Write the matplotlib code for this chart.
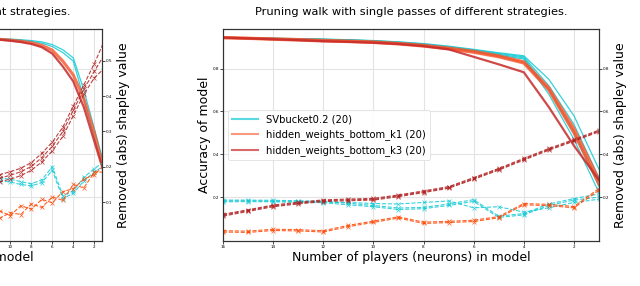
import matplotlib.pyplot as plt
from matplotlib.lines import Line2D

plt.rcParams['font.family'] = ['DejaVu Sans']

# right panel: single passes, 16 players
players = [16, 15, 14, 13, 12, 11, 10, 9, 8, 7, 6, 5, 4, 3, 2, 1]

acc_sv_runs = [
    [0.946, 0.944, 0.942, 0.940, 0.938, 0.935, 0.931, 0.925, 0.917, 0.905, 0.890, 0.874, 0.860, 0.75, 0.58, 0.33],
    [0.945, 0.943, 0.941, 0.939, 0.937, 0.934, 0.930, 0.924, 0.915, 0.902, 0.887, 0.871, 0.855, 0.72, 0.54, 0.29],
    [0.944, 0.942, 0.940, 0.938, 0.936, 0.933, 0.929, 0.922, 0.913, 0.900, 0.884, 0.867, 0.850, 0.70, 0.50, 0.25],
    [0.945, 0.943, 0.941, 0.939, 0.936, 0.933, 0.928, 0.921, 0.911, 0.897, 0.881, 0.862, 0.845, 0.68, 0.47, 0.22],
]
acc_k1_runs = [
    [0.945, 0.942, 0.939, 0.936, 0.932, 0.929, 0.925, 0.918, 0.909, 0.896, 0.881, 0.860, 0.832, 0.71, 0.52, 0.28],
    [0.944, 0.941, 0.937, 0.933, 0.929, 0.926, 0.922, 0.915, 0.905, 0.892, 0.876, 0.855, 0.826, 0.70, 0.50, 0.26],
]
acc_k3_runs = [
    [0.945, 0.941, 0.937, 0.933, 0.928, 0.925, 0.921, 0.915, 0.905, 0.890, 0.855, 0.820, 0.783, 0.62, 0.44, 0.28],
]

shap_sv_runs = [
    [0.186, 0.186, 0.185, 0.183, 0.180, 0.171, 0.161, 0.149, 0.152, 0.168, 0.188, 0.111, 0.123, 0.168, 0.193, 0.215],
    [0.178, 0.179, 0.178, 0.176, 0.174, 0.164, 0.155, 0.142, 0.146, 0.161, 0.180, 0.105, 0.117, 0.161, 0.186, 0.200],
    [0.182, 0.183, 0.181, 0.180, 0.177, 0.175, 0.170, 0.168, 0.175, 0.182, 0.150, 0.155, 0.130, 0.150, 0.175, 0.190],
]
shap_k1_runs = [
    [0.043, 0.041, 0.050, 0.048, 0.043, 0.068, 0.088, 0.108, 0.083, 0.087, 0.092, 0.109, 0.170, 0.166, 0.156, 0.240],
    [0.037, 0.035, 0.044, 0.042, 0.037, 0.062, 0.082, 0.102, 0.077, 0.081, 0.086, 0.103, 0.164, 0.160, 0.150, 0.232],
]
shap_k3_runs = [
    [0.120, 0.141, 0.163, 0.176, 0.187, 0.191, 0.194, 0.210, 0.229, 0.249, 0.291, 0.334, 0.381, 0.427, 0.469, 0.513],
    [0.116, 0.137, 0.159, 0.172, 0.183, 0.187, 0.190, 0.206, 0.225, 0.245, 0.287, 0.330, 0.377, 0.423, 0.465, 0.509],
    [0.111, 0.133, 0.155, 0.168, 0.179, 0.183, 0.186, 0.202, 0.221, 0.241, 0.283, 0.326, 0.373, 0.419, 0.461, 0.505],
]

# left panel (mostly cut off), only the last players are visible
players_l = [12, 11, 10, 9, 8, 7, 6, 5, 4, 3, 2, 1]

acc_sv_l = [
    [0.942, 0.940, 0.938, 0.935, 0.931, 0.925, 0.912, 0.888, 0.850, 0.70, 0.52, 0.34],
    [0.940, 0.938, 0.935, 0.932, 0.927, 0.919, 0.903, 0.875, 0.835, 0.66, 0.48, 0.31],
]
acc_k1_l = [[0.940, 0.937, 0.933, 0.928, 0.921, 0.909, 0.886, 0.835, 0.770, 0.66, 0.50, 0.31]]
acc_k3_l = [[0.939, 0.935, 0.930, 0.924, 0.915, 0.900, 0.870, 0.810, 0.740, 0.62, 0.46, 0.30]]

shap_sv_l = [
    [0.165, 0.168, 0.165, 0.158, 0.152, 0.163, 0.200, 0.118, 0.132, 0.170, 0.195, 0.215],
    [0.158, 0.160, 0.157, 0.150, 0.146, 0.155, 0.190, 0.110, 0.125, 0.160, 0.185, 0.205],
]
shap_k1_l = [
    [0.065, 0.075, 0.062, 0.090, 0.080, 0.108, 0.098, 0.130, 0.138, 0.165, 0.178, 0.205],
    [0.045, 0.055, 0.070, 0.065, 0.095, 0.085, 0.115, 0.105, 0.150, 0.140, 0.185, 0.185],
]
shap_k3_l = [
    [0.170, 0.178, 0.186, 0.196, 0.212, 0.238, 0.270, 0.312, 0.372, 0.432, 0.492, 0.560],
    [0.160, 0.168, 0.176, 0.186, 0.201, 0.226, 0.258, 0.300, 0.360, 0.420, 0.470, 0.520],
    [0.150, 0.158, 0.165, 0.175, 0.190, 0.214, 0.245, 0.286, 0.345, 0.405, 0.452, 0.480],
]

labels = ['SVbucket0.2 (20)', 'hidden_weights_bottom_k1 (20)', 'hidden_weights_bottom_k3 (20)']
title = 'Pruning walk with single passes of different strategies.'

C_SV = '#12cad4'
C_K1 = '#f4552c'
C_K3 = '#c62a2a'


def style_axes(ax, ax2):
    for a in (ax, ax2):
        a.tick_params(labelsize=3, length=2, width=0.5, pad=1)
        for s in a.spines.values():
            s.set_linewidth(0.8)
            s.set_color('#333333')
    ax.grid(True, color='#e3e3e3', linewidth=0.8)
    ax.set_axisbelow(True)


def draw_panel(ax, ax2, xs, acc, shap):
    acc_sv, acc_k1, acc_k3 = acc
    shap_sv, shap_k1, shap_k3 = shap
    for run in acc_sv:
        ax.plot(xs, run, color=C_SV, lw=0.9, alpha=0.85)
    for run in acc_k1:
        ax.plot(xs, run, color=C_K1, lw=2.2, alpha=0.8)
    for run in acc_k3:
        ax.plot(xs, run, color=C_K3, lw=1.6, alpha=0.85)
    for runs, c in ((shap_sv, C_SV), (shap_k1, 'orangered'), (shap_k3, 'firebrick')):
        for run in runs:
            ax2.plot(xs, run, color=c, lw=0.8, ls='--', marker='x', ms=2.5, mew=0.5, alpha=0.85)


fig = plt.figure(figsize=(6.4, 2.86), dpi=100)

W, H = 640.0, 286.0
ax_w = 376 / W
ax_h = 212 / H
bottom = 45 / H

# left panel
axl = fig.add_axes([(102 - 376) / W, bottom, ax_w, ax_h])
axl2 = axl.twinx()
draw_panel(axl, axl2, players_l, (acc_sv_l, acc_k1_l, acc_k3_l), (shap_sv_l, shap_k1_l, shap_k3_l))
axl.set_xlim(37.07, 1.27)
axl.set_xticks(range(34, 1, -2))
axl.set_ylim(-0.005, 0.985)
axl.set_yticks([0.2, 0.4, 0.6, 0.8])
axl2.set_ylim(-0.01, 0.59)
axl2.set_yticks([0.1, 0.2, 0.3, 0.4, 0.5])
style_axes(axl, axl2)
axl.set_title(title, fontsize=8.2, pad=10)
axl.set_xlabel('Number of players (neurons) in model', fontsize=9, labelpad=1)
axl2.set_ylabel('Removed (abs) shapley value', fontsize=9, labelpad=3)

# right panel
ax = fig.add_axes([223 / W, bottom, ax_w, ax_h])
ax2 = ax.twinx()
draw_panel(ax, ax2, players, (acc_sv_runs, acc_k1_runs, acc_k3_runs), (shap_sv_runs, shap_k1_runs, shap_k3_runs))
ax.set_xlim(16, 1)
ax.set_xticks(range(16, 1, -2))
ax.set_ylim(-0.005, 0.985)
ax.set_yticks([0.2, 0.4, 0.6, 0.8])
ax2.set_ylim(-0.005, 0.985)
ax2.set_yticks([0.2, 0.4, 0.6, 0.8])
style_axes(ax, ax2)
ax.set_title(title, fontsize=8.2, pad=10)
ax.set_xlabel('Number of players (neurons) in model', fontsize=9, labelpad=1)
ax.set_ylabel('Accuracy of model', fontsize=9, labelpad=1)
ax2.set_ylabel('Removed (abs) shapley value', fontsize=9, labelpad=3)

handles = [
    Line2D([], [], color=C_SV, lw=1.5, alpha=0.7),
    Line2D([], [], color=C_K1, lw=1.5, alpha=0.6),
    Line2D([], [], color=C_K3, lw=1.5, alpha=0.7),
]
leg = ax.legend(handles, labels, loc='upper left', bbox_to_anchor=(0.0, 0.64),
                fontsize=7.2, handlelength=2.6, labelspacing=0.5, framealpha=0.9)
leg.get_frame().set_linewidth(0.6)
leg.get_frame().set_edgecolor('#dddddd')

fig.savefig('out.png', dpi=100)
